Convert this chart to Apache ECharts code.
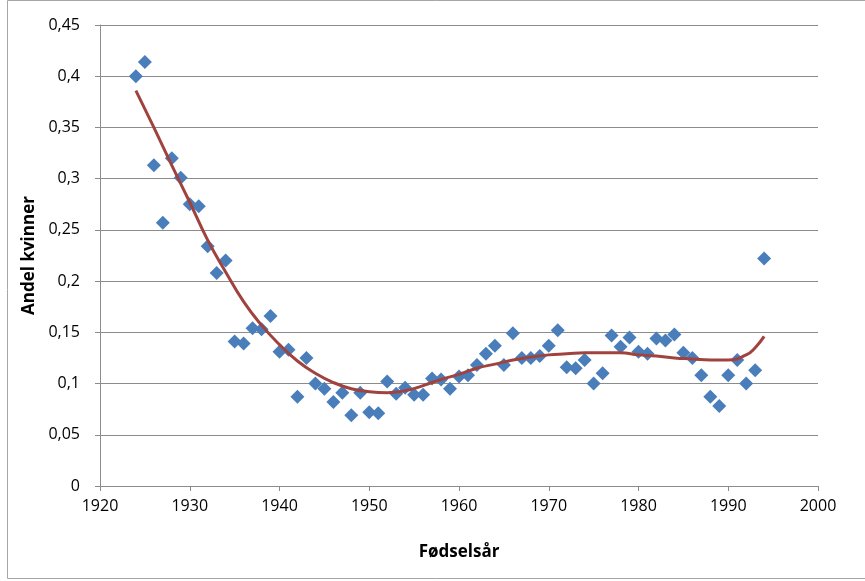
<!DOCTYPE html>
<html>
<head>
<meta charset="utf-8">
<script src="https://cdn.jsdelivr.net/npm/echarts@6/dist/echarts.min.js"></script>
<style>
  html, body { margin: 0; padding: 0; background: #fff; }
  #chart { width: 865px; height: 581px; }
</style>
</head>
<body>
<div id="chart"></div>
<script>
// birth years and share of women
const years = [
    1924, 1925, 1926, 1927, 1928, 1929, 1930, 1931, 1932, 1933, 1934, 1935, 1936, 1937, 1938, 1939,
    1940, 1941, 1942, 1943, 1944, 1945, 1946, 1947, 1948, 1949, 1950, 1951, 1952, 1953, 1954, 1955,
    1956, 1957, 1958, 1959, 1960, 1961, 1962, 1963, 1964, 1965, 1966, 1967, 1968, 1969, 1970, 1971,
    1972, 1973, 1974, 1975, 1976, 1977, 1978, 1979, 1980, 1981, 1982, 1983, 1984, 1985, 1986, 1987,
    1988, 1989, 1990, 1991, 1992, 1993, 1994
];
const shares = [
    0.400, 0.414, 0.313, 0.257, 0.320, 0.301, 0.275, 0.273, 0.234, 0.208, 0.220, 0.141, 0.139, 0.154, 0.153, 0.166,
    0.131, 0.133, 0.087, 0.125, 0.100, 0.095, 0.082, 0.091, 0.069, 0.091, 0.072, 0.071, 0.102, 0.090, 0.096, 0.089,
    0.089, 0.105, 0.104, 0.095, 0.107, 0.108, 0.118, 0.129, 0.137, 0.118, 0.149, 0.125, 0.125, 0.127, 0.137, 0.152,
    0.116, 0.115, 0.123, 0.100, 0.110, 0.147, 0.136, 0.145, 0.131, 0.129, 0.144, 0.142, 0.148, 0.130, 0.125, 0.108,
    0.087, 0.078, 0.108, 0.123, 0.100, 0.113, 0.222
];

// trend line at a few years
const trendYears = [
    1924, 1926, 1928, 1930, 1932, 1934, 1936, 1938, 1940, 1942, 1944, 1946, 1948, 1950, 1952, 1954,
    1956, 1958, 1960, 1962, 1964, 1966, 1968, 1970, 1972, 1974, 1976, 1978, 1980, 1982, 1984, 1986,
    1988, 1990, 1992, 1993, 1994
];
const trendValues = [
    0.386, 0.350, 0.313, 0.277, 0.240, 0.209, 0.180, 0.157, 0.138, 0.122, 0.110, 0.101, 0.095, 0.092, 0.091, 0.093,
    0.098, 0.104, 0.109, 0.115, 0.119, 0.123, 0.126, 0.128, 0.129, 0.130, 0.130, 0.130, 0.128, 0.127, 0.125, 0.124,
    0.123, 0.123, 0.128, 0.135, 0.146
];

const font = 'Open Sans';
const axisGray = '#8c8c8c';

const chart = echarts.init(document.getElementById('chart'));

chart.setOption({
    backgroundColor: '#fff',
    animation: false,
    graphic: [{
        type: 'rect',
        shape: { x: 7.5, y: 0.5, width: 880, height: 578 },
        style: { fill: 'none', stroke: '#a6a6a6', lineWidth: 1 },
        silent: true
    }],
    grid: { left: 100, right: 47, top: 25, bottom: 95 },
    xAxis: {
        type: 'value',
        min: 1920,
        max: 2000,
        interval: 10,
        name: 'Fødselsår',
        nameLocation: 'middle',
        nameGap: 58,
        nameTextStyle: { fontFamily: font, fontSize: 17, fontWeight: 'bold', color: '#000' },
        axisLine: { show: true, lineStyle: { color: axisGray, width: 1 } },
        axisTick: { show: true, inside: false, length: 5, lineStyle: { color: axisGray } },
        axisLabel: { fontFamily: font, fontSize: 16, color: '#000', margin: 12, formatter: v => String(v) },
        splitLine: { show: false }
    },
    yAxis: {
        type: 'value',
        min: 0,
        max: 0.45,
        interval: 0.05,
        name: 'Andel kvinner',
        nameLocation: 'middle',
        nameGap: 62,
        nameTextStyle: { fontFamily: font, fontSize: 17, fontWeight: 'bold', color: '#000' },
        axisLine: { show: true, lineStyle: { color: axisGray, width: 1 } },
        axisTick: { show: true, inside: false, length: 5, lineStyle: { color: axisGray } },
        axisLabel: {
            fontFamily: font,
            fontSize: 16,
            color: '#000',
            margin: 20,
            formatter: v => String(+v.toFixed(2)).replace('.', ',')
        },
        splitLine: { show: true, lineStyle: { color: axisGray, width: 1 } }
    },
    series: [
        {
            type: 'scatter',
            symbol: 'diamond',
            symbolSize: 14,
            itemStyle: { color: '#4A7EBB', opacity: 1 },
            data: years.map((y, i) => [y, shares[i]]),
            z: 2
        },
        {
            type: 'line',
            smooth: true,
            showSymbol: false,
            lineStyle: { color: '#A0433E', width: 3 },
            data: trendYears.map((y, i) => [y, trendValues[i]]),
            z: 3
        }
    ]
});
</script>
</body>
</html>
